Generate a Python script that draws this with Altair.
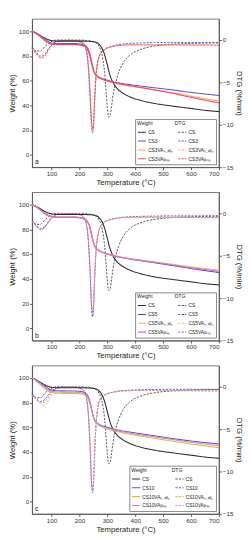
import altair as alt
import pandas as pd

T = [30, 45, 60, 75, 90, 105, 120, 150, 180, 200, 215, 225, 232, 238, 243, 247, 251, 255, 260, 265,
     270, 280, 290, 296, 300, 305, 310, 315, 320, 330, 340, 355, 380, 420, 470, 530, 600, 650, 700]

cs_w = [100, 98.5, 96.5, 94.5, 93, 92.3, 92, 92, 92, 92, 92, 91.9, 91.8, 91.8, 91.7, 91.6, 91.5, 91.3, 91, 90.5,
        89.5, 86.5, 81, 76, 72.5, 68, 64, 61, 58.5, 55, 52.5, 50, 47, 44, 41.5, 39.5, 37.5, 36, 35]
cs_d = [-0.8, -1.3, -1.3, -0.8, -0.35, -0.1, 0, 0, 0, 0, -0.02, -0.05, -0.07, -0.1, -0.12, -0.15, -0.2, -0.25, -0.35, -0.5,
        -0.75, -1.6, -3.8, -6.3, -8.0, -9.1, -8.9, -7.8, -6.6, -5.0, -3.9, -2.8, -1.8, -1.1, -0.7, -0.5, -0.4, -0.35, -0.3]

# panel a
cs3_w = [100, 98.2, 96, 93.5, 91.5, 90.3, 90, 90, 90, 89.8, 89, 87.5, 85, 81, 76, 72, 68.5, 66, 64.5, 63.5,
         62.8, 61.8, 61, 60.6, 60.3, 60, 59.7, 59.4, 59.1, 58.6, 58.2, 57.6, 56.8, 55.6, 54.2, 52.6, 50.5, 49.2, 48]
cs3h_w = [100, 98, 95.5, 92.8, 90.5, 89.3, 89, 89, 89, 88.7, 87.8, 86, 83, 79, 74, 70.5, 67.5, 65.3, 63.8, 62.8,
          62, 61, 60.2, 59.8, 59.5, 59.2, 58.9, 58.6, 58.3, 57.8, 57.3, 56.6, 55.6, 54.2, 52.4, 50.2, 47.4, 45.3, 43.5]
cs3b_w = [100, 98, 95.5, 92.5, 90.3, 89.4, 89.2, 89.2, 89.2, 89, 88.3, 86.5, 83.5, 79.5, 74.5, 71, 68, 65.8, 64.3, 63.3,
          62.5, 61.4, 60.6, 60.2, 59.9, 59.6, 59.3, 59, 58.7, 58.2, 57.7, 57, 56, 54.5, 52.5, 50, 46.5, 44.2, 42]
cs3_d = [-0.9, -1.4, -1.9, -1.7, -1.0, -0.4, -0.15, -0.05, -0.05, -0.15, -0.4, -1.2, -3.0, -6.0, -9.3, -10.5, -9.6, -6.8, -4.0, -2.7,
         -2.0, -1.4, -1.1, -0.95, -0.9, -0.85, -0.8, -0.75, -0.7, -0.62, -0.55, -0.48, -0.4, -0.35, -0.3, -0.3, -0.3, -0.3, -0.35]
cs3h_d = [-1.0, -1.6, -2.1, -1.9, -1.1, -0.45, -0.15, -0.05, -0.05, -0.2, -0.5, -1.4, -3.4, -6.6, -9.8, -10.7, -9.4, -6.4, -3.8, -2.6,
          -2.0, -1.4, -1.15, -1.0, -0.95, -0.9, -0.85, -0.8, -0.75, -0.7, -0.65, -0.6, -0.55, -0.55, -0.55, -0.55, -0.55, -0.55, -0.6]
cs3b_d = [-1.0, -1.6, -2.1, -1.9, -1.1, -0.45, -0.15, -0.05, -0.05, -0.2, -0.5, -1.4, -3.4, -6.8, -10.2, -11.0, -9.6, -6.5, -3.9, -2.6,
          -2.0, -1.4, -1.15, -1.0, -0.95, -0.9, -0.85, -0.8, -0.75, -0.7, -0.65, -0.6, -0.58, -0.58, -0.58, -0.58, -0.6, -0.6, -0.62]

# panel b
cs5_w = [100, 98.2, 95.8, 93.2, 91.2, 90.2, 90, 90, 89.9, 89.6, 88.8, 87.3, 85, 81.5, 76.5, 72.5, 69, 66.5, 64.8, 63.6,
         62.8, 61.7, 60.8, 60.3, 60, 59.7, 59.4, 59.1, 58.8, 58.2, 57.7, 57, 56, 54.6, 52.9, 50.8, 48.3, 46.6, 45]
cs5h_w = [100, 98, 95.5, 92.8, 90.8, 89.9, 89.7, 89.7, 89.6, 89.3, 88.5, 87, 84.7, 81, 76, 72, 68.6, 66.1, 64.5, 63.4,
          62.7, 61.7, 60.9, 60.5, 60.2, 59.9, 59.6, 59.3, 59, 58.5, 58, 57.3, 56.4, 55.1, 53.6, 51.8, 49.6, 48.3, 47]
cs5b_w = [100, 98, 95.4, 92.6, 90.6, 89.8, 89.6, 89.6, 89.5, 89.2, 88.4, 86.9, 84.5, 80.8, 75.8, 71.8, 68.4, 65.9, 64.3, 63.2,
          62.5, 61.5, 60.7, 60.3, 60, 59.7, 59.4, 59.1, 58.8, 58.3, 57.8, 57.1, 56.2, 54.9, 53.3, 51.3, 48.9, 47.5, 46]
cs5_d = [-0.9, -1.4, -1.8, -1.6, -0.9, -0.35, -0.12, -0.04, -0.04, -0.15, -0.45, -1.3, -3.3, -7.0, -11.0, -12.2, -10.8, -7.2, -4.2, -2.8,
         -2.0, -1.35, -1.05, -0.9, -0.85, -0.8, -0.75, -0.7, -0.65, -0.58, -0.52, -0.46, -0.4, -0.35, -0.32, -0.3, -0.3, -0.3, -0.32]
cs5h_d = [-0.9, -1.5, -1.9, -1.7, -1.0, -0.4, -0.12, -0.04, -0.04, -0.15, -0.45, -1.3, -3.2, -6.6, -10.4, -11.5, -10.2, -6.9, -4.0, -2.7,
          -2.0, -1.35, -1.05, -0.9, -0.85, -0.8, -0.75, -0.7, -0.66, -0.6, -0.55, -0.5, -0.46, -0.44, -0.44, -0.45, -0.46, -0.47, -0.5]
cs5b_d = [-0.9, -1.5, -1.9, -1.7, -1.0, -0.4, -0.12, -0.04, -0.04, -0.15, -0.45, -1.3, -3.3, -6.8, -10.7, -11.8, -10.5, -7.0, -4.1, -2.7,
          -2.0, -1.35, -1.05, -0.9, -0.85, -0.8, -0.75, -0.7, -0.66, -0.6, -0.55, -0.5, -0.47, -0.45, -0.45, -0.46, -0.48, -0.5, -0.52]

# panel c
cs10_w = [100, 98.3, 96, 93.5, 91.3, 90, 89.6, 89.5, 89.4, 89.2, 88.5, 87, 84.5, 80.5, 75.5, 71.5, 68, 65.8, 64.3, 63.3,
          62.5, 61.5, 60.7, 60.3, 60, 59.7, 59.4, 59.1, 58.8, 58.3, 57.8, 57.1, 56.2, 54.8, 53.1, 51.1, 49, 47.7, 46.5]
cs10h_w = [100, 97.5, 94.5, 91.5, 89.2, 88, 87.6, 87.5, 87.4, 87.2, 86.5, 85, 82.5, 78.5, 74, 70.5, 67.5, 65.2, 63.6, 62.5,
           61.6, 60.4, 59.5, 59, 58.7, 58.4, 58.1, 57.8, 57.5, 56.9, 56.4, 55.6, 54.5, 53, 51.1, 49, 46.5, 45, 43.5]
cs10b_w = [100, 97.9, 95.2, 92.4, 90.2, 89, 88.6, 88.5, 88.4, 88.2, 87.5, 86, 83.5, 79.5, 74.8, 71, 67.8, 65.5, 64, 63,
           62.1, 61, 60.1, 59.7, 59.4, 59.1, 58.8, 58.5, 58.2, 57.6, 57.1, 56.4, 55.4, 54, 52.3, 50.3, 47.9, 46.5, 45]
cs10_d = [-0.9, -1.4, -1.75, -1.5, -0.85, -0.35, -0.12, -0.04, -0.04, -0.15, -0.45, -1.3, -3.4, -7.2, -11.3, -12.5, -11.0, -7.3, -4.2, -2.6,
          -1.8, -1.2, -0.95, -0.85, -0.8, -0.75, -0.7, -0.66, -0.62, -0.56, -0.5, -0.45, -0.4, -0.35, -0.32, -0.3, -0.3, -0.3, -0.32]
cs10h_d = [-1.0, -1.5, -2.0, -2.2, -1.5, -0.6, -0.2, -0.05, -0.05, -0.15, -0.45, -1.3, -3.3, -6.9, -10.8, -12.0, -10.6, -7.1, -4.1, -2.6,
           -1.9, -1.3, -1.0, -0.9, -0.85, -0.8, -0.75, -0.7, -0.66, -0.6, -0.55, -0.5, -0.46, -0.44, -0.44, -0.45, -0.46, -0.47, -0.5]
cs10b_d = [-1.0, -1.5, -1.9, -1.8, -1.1, -0.45, -0.15, -0.05, -0.05, -0.15, -0.45, -1.3, -3.3, -7.0, -11.0, -12.2, -10.8, -7.2, -4.1, -2.6,
           -1.9, -1.3, -1.0, -0.9, -0.85, -0.8, -0.75, -0.7, -0.66, -0.6, -0.55, -0.5, -0.47, -0.45, -0.45, -0.46, -0.48, -0.5, -0.52]

SUB_H = "\u2095\u208b\u2090\u1d66\u209b"   # small lowered "h-abs"
SUB_B = "\u1d66\u1d64\u2097\u2096"          # small lowered "bulk"

names_a = ["CS", "CS3", "CS3VA" + SUB_H, "CS3VA" + SUB_B]
names_b = ["CS", "CS5", "CS5VA" + SUB_H, "CS5VA" + SUB_B]
names_c = ["CS", "CS10", "CS10VA" + SUB_H, "CS10VA" + SUB_B]

colors_a = ["#2a2a2a", "#5b5bd6", "#ffa64d", "#ff3d6e"]
colors_b = ["#2a2a2a", "#5a3fd6", "#e6c84a", "#e667c8"]
colors_c = ["#2a2a2a", "#6a4cd0", "#e8b440", "#c98ac9"]
CS_DASH_COLOR = "#555555"

W, H = 194, 154
FONT = "Liberation Sans"


def panel(names, weights, dtgs, colors, letter, nb):
    rows = []
    for n, w, d in zip(names, weights, dtgs):
        for t, v in zip(T, w):
            rows.append({"T": t, "v": v, "key": "w:" + n, "kind": "w"})
        for t, v in zip(T, d):
            rows.append({"T": t, "v": v, "key": "d:" + n, "kind": "d"})
    df = pd.DataFrame(rows)
    domain = ["w:" + n for n in names] + ["d:" + n for n in names]
    crange = list(colors) + [CS_DASH_COLOR if n == "CS" else c for n, c in zip(names, colors)]
    drange = [[1, 0]] * len(names) + [[2.2, 1.4]] * len(names)
    leg = alt.Legend(title="Weight" + "\u00a0" * nb + "DTG", columns=2,
                     labelExpr="substring(datum.label, 2)",
                     orient="bottom-right", offset=3)
    color = alt.Color("key:N", scale=alt.Scale(domain=domain, range=crange), legend=leg)
    dash = alt.StrokeDash("key:N", scale=alt.Scale(domain=domain, range=drange), legend=leg)
    x = alt.X("T:Q", scale=alt.Scale(domain=[30, 700], nice=False, zero=False),
              axis=alt.Axis(values=list(range(100, 701, 100)), title="Temperature (°C)"))
    base = alt.Chart(df)
    dl = base.transform_filter("datum.kind == 'd'").mark_line(
        strokeWidth=1.0, interpolate="monotone").encode(
        x=x,
        y=alt.Y("v:Q", scale=alt.Scale(domain=[-15, 2.5], nice=False, zero=False),
                axis=alt.Axis(values=[-15, -10, -5, 0], title="DTG (%/min)", orient="right")),
        color=color, strokeDash=dash)
    wl = base.transform_filter("datum.kind == 'w'").mark_line(
        strokeWidth=1.1, interpolate="monotone").encode(
        x=x,
        y=alt.Y("v:Q", scale=alt.Scale(domain=[-10, 110], nice=False, zero=False),
                axis=alt.Axis(values=[0, 20, 40, 60, 80, 100], title="Weight (%)", orient="left")),
        color=color, strokeDash=dash)
    txt = alt.Chart(pd.DataFrame({"lab": [letter]})).mark_text(
        align="left", baseline="bottom", fontSize=7, font=FONT, color="#222").encode(
        x=alt.value(3), y=alt.value(H - 2), text="lab:N")
    return alt.layer(dl, wl, txt).resolve_scale(y="independent").properties(width=W, height=H)


pa = panel(names_a, [cs_w, cs3_w, cs3h_w, cs3b_w], [cs_d, cs3_d, cs3h_d, cs3b_d], colors_a, "a", 16)
pb = panel(names_b, [cs_w, cs5_w, cs5h_w, cs5b_w], [cs_d, cs5_d, cs5h_d, cs5b_d], colors_b, "b", 16)
pc = panel(names_c, [cs_w, cs10_w, cs10h_w, cs10b_w], [cs_d, cs10_d, cs10h_d, cs10b_d], colors_c, "c", 18)

chart = alt.vconcat(pa, pb, pc, spacing=4).resolve_scale(
    color="independent", strokeDash="independent"
).properties(padding=0).configure_view(
    stroke="#555555", strokeWidth=0.8
).configure_axis(
    labelFont=FONT, titleFont=FONT, labelFontSize=6.5, titleFontSize=8,
    titleFontWeight="normal", tickSize=2.5, labelPadding=1, titlePadding=2,
    domainColor="#555555", tickColor="#555555", labelColor="#333333",
    titleColor="#222222", grid=False
).configure_legend(
    symbolType="stroke", symbolSize=70, symbolStrokeWidth=1.1,
    labelFont=FONT, titleFont=FONT, labelFontSize=5, titleFontSize=5.2,
    titleFontWeight="normal", rowPadding=1.2, columnPadding=2, labelOffset=1.5,
    titlePadding=1.5, padding=2, strokeColor="#888888", fillColor="white",
    labelLimit=200, labelColor="#222222", titleColor="#222222"
)

chart.save("out.html", embed_options={"renderer": "svg", "actions": False})
